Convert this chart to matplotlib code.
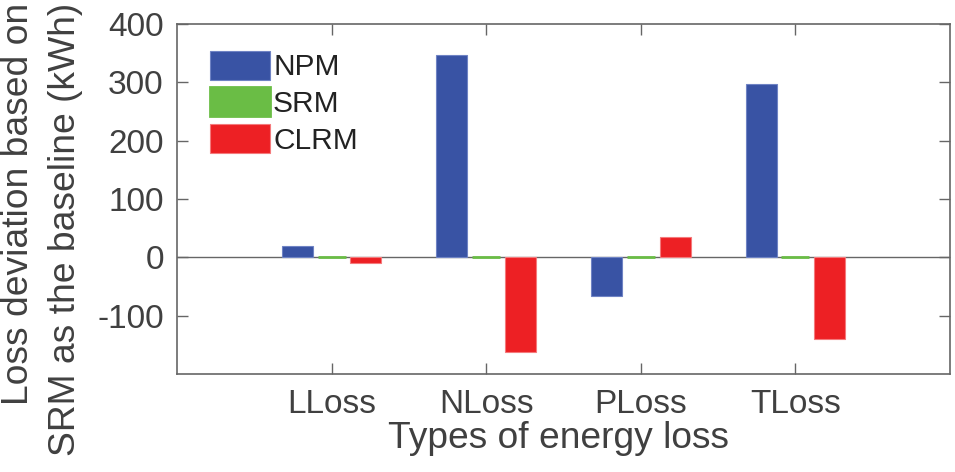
import numpy as np
import matplotlib.pyplot as plt

plt.rcParams['font.family'] = ['Liberation Sans', 'DejaVu Sans']
plt.rcParams['axes.unicode_minus'] = False

# data (kWh, deviation from SRM)
categories = ['LLoss', 'NLoss', 'PLoss', 'TLoss']
npm = [19, 346, -67, 297]
srm = [0, 0, 0, 0]
clrm = [-9, -163, 34, -140]

series_names = ['NPM', 'SRM', 'CLRM']
face_colors = ['#3953a4', '#6abd45', '#ed2024']
edge_colors = ['#6f83c4', '#6abd45', '#f47a7c']

W, H = 955, 472
fig = plt.figure(figsize=(W / 100, H / 100), dpi=100)
ax = fig.add_axes([177 / W, 1 - 374 / H, 773 / W, 350 / H])

x = np.arange(1, len(categories) + 1)
offsets = [-0.222, 0.0, 0.222]
for vals, name, fc, ec, off in zip([npm, srm, clrm], series_names,
                                   face_colors, edge_colors, offsets):
    lw = 2.0 if name == 'SRM' else 0.8
    w = 0.18 if name == 'SRM' else 0.2
    ax.bar(x + off, vals, width=w, color=fc, edgecolor=ec, linewidth=lw,
           label=name, zorder=3)

ax.axhline(0, color='#666666', lw=1.0, zorder=2)

ax.set_xlim(0, 5)
ax.set_ylim(-200, 400)
ax.set_xticks(x)
ax.set_xticklabels(categories)
ax.set_yticks([-100, 0, 100, 200, 300, 400])

txt = '#404040'
ax.tick_params(direction='in', length=8, width=1, colors='#666666',
               labelcolor=txt, labelsize=24, top=True, right=True)
ax.tick_params(axis='x', pad=11)
ax.tick_params(axis='y', pad=9.5)
for s in ax.spines.values():
    s.set_color('#666666')
    s.set_linewidth(1.2)

# axis titles placed like the original export
fig.text(559 / W, 1 - 448 / H, 'Types of energy loss', fontsize=26.7,
         color=txt, ha='center', va='baseline')
fig.text(0.5 / W, 1 - 3 / H, 'Loss deviation based on\nSRM as the baseline (kWh)',
         fontsize=26.8, color=txt, rotation=90, ha='left', va='top',
         multialignment='right', linespacing=1.47)

leg = ax.legend(loc='upper left', bbox_to_anchor=(0.02, 0.975), frameon=False,
                fontsize=21.5, handlelength=2.0, handleheight=1.12,
                handletextpad=0.1, labelspacing=0.2, borderaxespad=0.2)
for t in leg.get_texts():
    t.set_color('#222222')

fig.savefig('out.png', dpi=100)
